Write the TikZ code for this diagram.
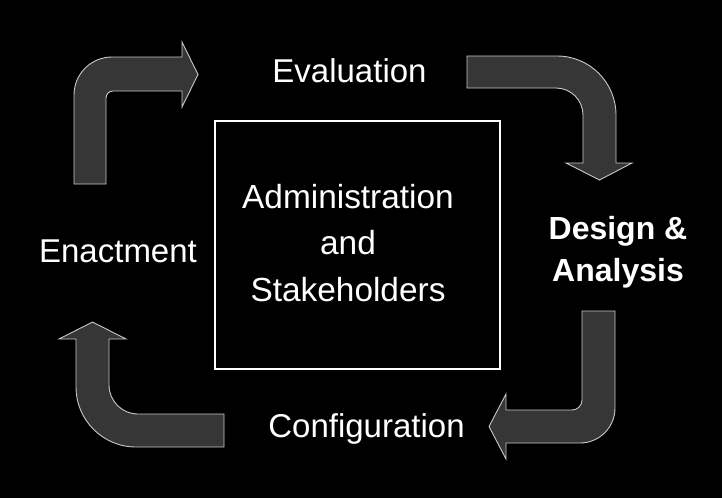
\documentclass[tikz,border=0pt]{standalone}
\usepackage{fontspec}
\setmainfont{Liberation Sans}
\tikzset{
  bentarrow/.style={fill=arrowgray,draw=edgegray,line width=0.9pt,line join=miter},
  lbl/.style={text=white,inner sep=0pt,font=\fontsize{33}{40}\selectfont},
  boldlbl/.style={text=white,inner sep=0pt,align=center,font=\bfseries\fontsize{32}{42}\selectfont}
}
\definecolor{arrowgray}{RGB}{54,54,54}
\definecolor{edgegray}{RGB}{200,200,200}
\begin{document}
\begin{tikzpicture}[x=1pt,y=-1pt]
\fill[black] (0,0) rectangle (722,498);
\useasboundingbox (0,0) rectangle (722,498);
% centre box
\node[draw=white,line width=2pt,minimum width=285pt,minimum height=248pt] (frame) at (357.5,245) {};
\node[lbl,align=center,font=\fontsize{33.4}{46.5}\selectfont] (admin) at (348,243)
  {Administration\\and\\Stakeholders};
% labels of the cycle
\node[lbl,anchor=base] (evaluation) at (349.5,82) {Evaluation};
\node[boldlbl] (design) at (618,252) {Design \&\\Analysis};
\node[lbl,anchor=base] (configuration) at (366.5,437) {Configuration};
\node[lbl,anchor=base] (enactment) at (118,262) {Enactment};
% bent arrows
\draw[bentarrow] (74,184) -- (74,95) arc[start angle=180,end angle=270,radius=38]
  -- (182,57) -- (182,42) -- (198,74.5) -- (182,107) -- (182,91) -- (113,91)
  arc[start angle=270,end angle=180,radius=7] -- (106,184) -- cycle;
\draw[bentarrow] (467,56) -- (557,56) arc[start angle=270,end angle=360,radius=59]
  -- (616,163) -- (632,163) -- (599.5,180) -- (566,163) -- (583,163) -- (583,115)
  arc[start angle=0,end angle=-90,radius=27] -- (467,88) -- cycle;
\draw[bentarrow] (582,311) -- (615,311) -- (615,408) arc[start angle=0,end angle=90,radius=35]
  -- (506,443) -- (506,459) -- (489,426.5) -- (506,394) -- (506,410) -- (572,410)
  arc[start angle=90,end angle=0,radius=10] -- cycle;
\draw[bentarrow] (224,414) -- (138,414) arc[start angle=90,end angle=180,radius=29]
  -- (109,339) -- (126,339) -- (92.5,322) -- (59,339) -- (76,339) -- (76,387)
  arc[start angle=180,end angle=90,radius=60] -- (224,447) -- cycle;
\end{tikzpicture}
\end{document}
